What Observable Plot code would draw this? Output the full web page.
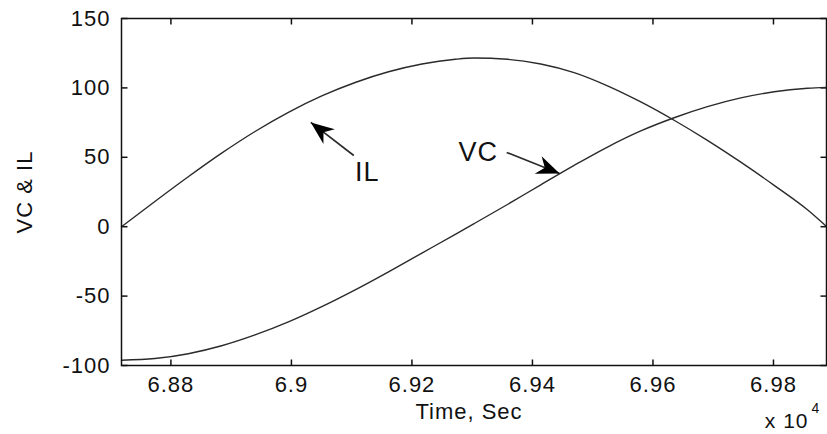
<!DOCTYPE html>
<html><head><meta charset="utf-8">
<script src="https://cdn.jsdelivr.net/npm/d3@7"></script>
<script src="https://cdn.jsdelivr.net/npm/@observablehq/plot@0.6"></script>
<style>html,body{margin:0;padding:0;background:#fff;} #chart svg{display:block;}</style>
</head><body><div id="chart"></div>
<script>
// time in units of 1e4 s
const time = [6.8718, 6.87734, 6.88288, 6.88842, 6.89396, 6.8995, 6.90504, 6.91058, 6.91612, 6.92166, 6.9272, 6.93032, 6.93585, 6.94138, 6.94692, 6.95245, 6.95798, 6.96351, 6.96904, 6.97458, 6.98011, 6.98564, 6.9888];
const il   = [0, 18.2, 36.0, 53.0, 68.6, 82.4, 94.2, 103.9, 111.6, 117.2, 120.6, 121.5, 120.6, 117.2, 111.0, 101.5, 89.9, 76.7, 62.2, 46.5, 29.8, 12.2, 0.2];
const vc   = [-96.2, -95.0, -91.5, -85.8, -78.0, -68.6, -57.6, -45.5, -32.5, -19.0, -5.5, 2.2, 16.0, 30.2, 44.2, 57.4, 69.0, 78.5, 86.5, 92.8, 97.2, 99.7, 100.4];

const xTicks = [6.88, 6.9, 6.92, 6.94, 6.96, 6.98];
const xTickLabels = ["6.88", "6.9", "6.92", "6.94", "6.96", "6.98"];
const yTicks = [-100, -50, 0, 50, 100, 150];
const yTickLabels = ["-100", "-50", "0", "50", "100", "150"];
const xDomain = [6.8718, 6.9888];
const yDomain = [-100, 150];

const annoLabels = ["IL", "VC"];
const annoX = [6.9126, 6.9310];
const annoY = [39.4, 53.5];
const arrowTailX = [6.91035, 6.93572];
const arrowTailY = [51.3, 53.5];
const arrowTipX = [6.90322, 6.94451];
const arrowTipY = [75.1, 38.3];

const xLabel = "Time, Sec";
const yLabel = "VC & IL";
const xExponent = ["x 10", "4"];

const W = 827, H = 434;
const mL = 121, mR = 1, mT = 18, mB = 69;
const innerW = W - mL - mR, innerH = H - mT - mB;
const ink = "#111", lineInk = "#2a2a2a";
const tickLen = 6;

const series = time.map((t, i) => ({t, il: il[i], vc: vc[i]}));
const idx2 = [0, 1];

const arrowHead = {
  draw(ctx, size) {
    const r = Math.sqrt(size / Math.PI);
    const L = r * 2.1, Wd = r * 0.85, N = r * 1.45;
    ctx.moveTo(0, 0);
    ctx.lineTo(-Wd, L);
    ctx.lineTo(0, N);
    ctx.lineTo(Wd, L);
    ctx.closePath();
  }
};

function build(sx, sy) {
  const marks = [];
  if (sx) {
    // inward tick lengths converted to data units through the scales
    const dyU = sy.invert(mT + innerH - tickLen) - sy.invert(mT + innerH);
    const dxU = sx.invert(mL + tickLen) - sx.invert(mL);
    const [x0, x1] = xDomain, [y0, y1] = yDomain;
    marks.push(
      Plot.link(xTicks, {x1: d => d, x2: d => d, y1: () => y0, y2: () => y0 + dyU, stroke: ink, strokeWidth: 1.5}),
      Plot.link(xTicks, {x1: d => d, x2: d => d, y1: () => y1, y2: () => y1 - dyU, stroke: ink, strokeWidth: 1.5}),
      Plot.link(yTicks, {y1: d => d, y2: d => d, x1: () => x0, x2: () => x0 + dxU, stroke: ink, strokeWidth: 1.5}),
      Plot.link(yTicks, {y1: d => d, y2: d => d, x1: () => x1, x2: () => x1 - dxU, stroke: ink, strokeWidth: 1.5})
    );
  }
  marks.push(
    Plot.axisX({ticks: xTicks, tickSize: 0, tickPadding: 11, tickFormat: (d) => xTickLabels[xTicks.indexOf(d)], label: null, fill: ink}),
    Plot.axisY({ticks: yTicks, tickSize: 0, tickPadding: 11, tickFormat: (d) => yTickLabels[yTicks.indexOf(d)], label: null, fill: ink}),
    Plot.lineY(series, {x: "t", y: "il", stroke: lineInk, strokeWidth: 1.4, curve: "monotone-x"}),
    Plot.lineY(series, {x: "t", y: "vc", stroke: lineInk, strokeWidth: 1.4, curve: "monotone-x"}),
    Plot.link(idx2, {x1: i => arrowTailX[i], y1: i => arrowTailY[i], x2: i => arrowTipX[i], y2: i => arrowTipY[i], stroke: lineInk, strokeWidth: 1.6}),
    Plot.text(idx2, {x: i => annoX[i], y: i => annoY[i], text: i => annoLabels[i], fontSize: 27, fill: ink, textAnchor: "middle", lineAnchor: "middle"}),
    Plot.frame({stroke: ink, strokeWidth: 1.5}),
    Plot.text([xLabel], {frameAnchor: "bottom", text: d => d, textAnchor: "middle", lineAnchor: "middle", dx: -5, dy: 46, fill: ink}),
    Plot.text([yLabel], {frameAnchor: "left", text: d => d, textAnchor: "middle", lineAnchor: "middle", rotate: -90, dx: -97, fill: ink}),
    Plot.text([xExponent[0]], {frameAnchor: "bottom-right", text: d => d, textAnchor: "end", lineAnchor: "middle", dx: -18, dy: 56, fontSize: 21, fill: ink}),
    Plot.text([xExponent[1]], {frameAnchor: "bottom-right", text: d => d, textAnchor: "start", lineAnchor: "middle", dx: -15, dy: 43, fontSize: 14, fill: ink})
  );
  if (sx) {
    const angles = idx2.map(i => {
      const dx = sx.apply(arrowTipX[i]) - sx.apply(arrowTailX[i]);
      const dy = sy.apply(arrowTipY[i]) - sy.apply(arrowTailY[i]);
      return Math.atan2(dx, -dy) * 180 / Math.PI;
    });
    marks.push(Plot.dot(idx2, {x: i => arrowTipX[i], y: i => arrowTipY[i], symbol: arrowHead, r: 11, rotate: i => angles[i], fill: "#000", stroke: "none"}));
  }
  return Plot.plot({
    width: W, height: H,
    marginLeft: mL, marginRight: mR, marginTop: mT, marginBottom: mB,
    x: {type: "linear", domain: xDomain},
    y: {type: "linear", domain: yDomain},
    style: {fontFamily: "'Liberation Sans', Arial, sans-serif", fontSize: "22px", letterSpacing: "1px", color: ink, background: "#fff"},
    marks
  });
}

const first = build(null, null);
const final = build(first.scale("x"), first.scale("y"));
document.getElementById("chart").appendChild(final);
</script>
</body></html>
